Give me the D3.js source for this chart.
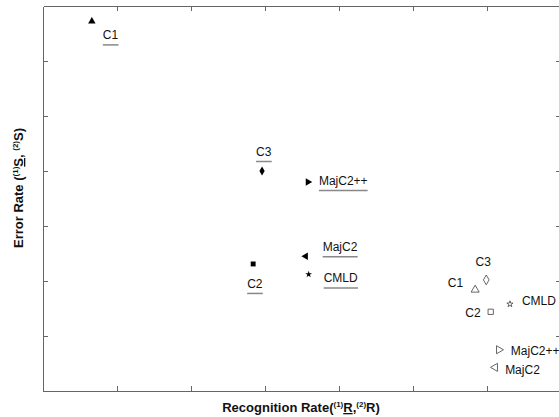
<!DOCTYPE html>
<html lang="en">
<head>
<meta charset="UTF-8">
<title>Error Rate vs Recognition Rate</title>
<script src="https://d3js.org/d3.v7.min.js"></script>
<style>
    body { margin: 0; background: #fff; }
    svg { display: block; font-family: "Liberation Sans", Arial, sans-serif; }
    .axis path, .axis line { stroke: #666; shape-rendering: crispEdges; }
    .lbl { font-size: 12px; fill: #111; }
    .title { font-size: 13px; font-weight: bold; fill: #111; }
</style>
</head>
<body>
<svg width="559" height="417"></svg>
<script>
// Combiner names and their (recognition, error) positions, in tick units
const names = ["C1", "C2", "C3", "MajC2", "MajC2++", "CMLD"];
const recogA = [0.66, 2.84, 2.96, 3.55, 3.58, 3.59];   // filled markers
const errorA = [6.72, 2.31, 4.00, 2.45, 3.80, 2.12];
const recogB = [5.84, 6.05, 5.99, 6.11, 6.16, 6.31];   // open markers
const errorB = [1.84, 1.44, 2.02, 0.43, 0.75, 1.58];
const tickVals = [1, 2, 3, 4, 5, 6];

// marker shapes and label placement (layout only)
const shapes = {
    "C1": [d3.symbolTriangle, 0], "C2": [d3.symbolSquare, 0], "C3": [d3.symbolDiamond, 0],
    "MajC2": [d3.symbolTriangle, -90], "MajC2++": [d3.symbolTriangle, 90], "CMLD": [d3.symbolStar, 0]
};
const offA = { "C1": [11, 18, "start"], "C2": [-6, 24, "start"], "C3": [-6, -15, "start"],
               "MajC2": [17, -5, "start"], "MajC2++": [11, 3, "start"], "CMLD": [15, 8, "start"] };
const offB = { "C1": [-12, -3, "end"], "C2": [-10, 5, "end"], "C3": [-3, -14, "middle"],
               "MajC2": [10, 7, "start"], "MajC2++": [12, 5, "start"], "CMLD": [12, 1, "start"] };

const mLeft = 43, mRight = 561, mTop = 6, mBottom = 391;
const svg = d3.select("svg");

const x = d3.scaleLinear().domain([0, 7]).range([mLeft, mRight]);
const y = d3.scaleLinear().domain([0, 7]).range([mBottom, mTop]);

// frame with inward ticks on all sides
svg.append("g").attr("class", "axis").attr("transform", `translate(0,${mBottom})`)
   .call(d3.axisBottom(x).tickValues(tickVals).tickSize(-5).tickSizeOuter(0).tickFormat(""));
svg.append("g").attr("class", "axis").attr("transform", `translate(0,${mTop})`)
   .call(d3.axisTop(x).tickValues(tickVals).tickSize(-5).tickSizeOuter(0).tickFormat(""));
svg.append("g").attr("class", "axis").attr("transform", `translate(${mLeft},0)`)
   .call(d3.axisLeft(y).tickValues(tickVals).tickSize(-5).tickSizeOuter(0).tickFormat(""));
svg.append("g").attr("class", "axis").attr("transform", `translate(${mRight},0)`)
   .call(d3.axisRight(y).tickValues(tickVals).tickSize(-5).tickSizeOuter(0).tickFormat(""));

function drawSet(rec, err, filled, off) {
    names.forEach((n, i) => {
        const px = x(rec[i]), py = y(err[i]);
        const [type, rot] = shapes[n];
        const size = filled ? (type === d3.symbolStar ? 14 : 24) : (type === d3.symbolStar ? 12 : 28);
        svg.append("path")
           .attr("d", d3.symbol().type(type).size(size)())
           .attr("transform", `translate(${px},${py}) rotate(${rot})`)
           .attr("fill", filled ? "#000" : "none")
           .attr("stroke", filled ? "none" : "#555")
           .attr("stroke-width", 0.9);
        const [dx, dy, anchor] = off[n];
        const t = svg.append("text").attr("class", "lbl")
           .attr("x", px + dx).attr("y", py + dy)
           .attr("text-anchor", anchor).text(n);
        if (filled) {
            const bb = t.node().getBBox();
            svg.append("line")
               .attr("x1", bb.x).attr("x2", bb.x + bb.width)
               .attr("y1", py + dy + 5.5).attr("y2", py + dy + 5.5)
               .attr("stroke", "#888").attr("stroke-width", 1.5);
        }
    });
}
drawSet(recogA, errorA, true, offA);
drawSet(recogB, errorB, false, offB);

// axis titles with superscripts
const xt = svg.append("text").attr("class", "title")
   .attr("x", 301).attr("y", 412).attr("text-anchor", "middle");
xt.append("tspan").text("Recognition Rate(");
xt.append("tspan").attr("font-size", 8).attr("dy", -5).text("(1)");
xt.append("tspan").attr("dy", 5).attr("text-decoration", "underline").text("R");
xt.append("tspan").text(",");
xt.append("tspan").attr("font-size", 8).attr("dy", -5).text("(2)");
xt.append("tspan").attr("dy", 5).text("R)");

const yt = svg.append("text").attr("class", "title")
   .attr("transform", "translate(23,188) rotate(-90)").attr("text-anchor", "middle");
yt.append("tspan").text("Error Rate (");
yt.append("tspan").attr("font-size", 8).attr("dy", -5).text("(1)");
yt.append("tspan").attr("dy", 5).attr("text-decoration", "underline").text("S");
yt.append("tspan").text(", ");
yt.append("tspan").attr("font-size", 8).attr("dy", -5).text("(2)");
yt.append("tspan").attr("dy", 5).text("S)");
</script>
</body>
</html>
